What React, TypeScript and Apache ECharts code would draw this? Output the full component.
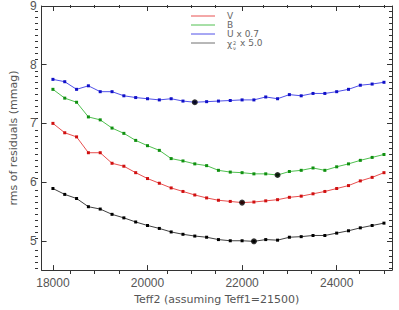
import React, { useEffect, useRef } from "react";
import * as echarts from "echarts";

const temps = [18000, 18250, 18500, 18750, 19000, 19250, 19500, 19750, 20000, 20250, 20500, 20750, 21000, 21250, 21500, 21750, 22000, 22250, 22500, 22750, 23000, 23250, 23500, 23750, 24000, 24250, 24500, 24750, 25000];

const rmsV = [7.00, 6.84, 6.77, 6.50, 6.50, 6.32, 6.27, 6.16, 6.06, 5.98, 5.90, 5.84, 5.78, 5.73, 5.69, 5.67, 5.65, 5.66, 5.68, 5.70, 5.74, 5.76, 5.80, 5.84, 5.89, 5.94, 6.02, 6.08, 6.16];
const rmsB = [7.58, 7.43, 7.36, 7.11, 7.06, 6.92, 6.83, 6.71, 6.62, 6.54, 6.40, 6.36, 6.31, 6.28, 6.20, 6.17, 6.16, 6.14, 6.14, 6.12, 6.18, 6.20, 6.24, 6.20, 6.26, 6.31, 6.37, 6.42, 6.47];
const rmsU = [7.75, 7.71, 7.58, 7.64, 7.54, 7.54, 7.47, 7.44, 7.42, 7.40, 7.42, 7.38, 7.36, 7.37, 7.38, 7.39, 7.40, 7.40, 7.45, 7.42, 7.49, 7.47, 7.51, 7.51, 7.54, 7.58, 7.65, 7.67, 7.70];
const chi2 = [5.89, 5.79, 5.72, 5.58, 5.54, 5.45, 5.39, 5.32, 5.26, 5.21, 5.15, 5.11, 5.08, 5.06, 5.02, 5.00, 5.00, 4.99, 5.02, 5.01, 5.06, 5.07, 5.09, 5.09, 5.13, 5.17, 5.22, 5.26, 5.30];

const xLabels = [18000, 20000, 22000, 24000];
const xMinor = [18500, 19000, 19500, 20500, 21000, 21500, 22500, 23000, 23500, 24500, 25000];
const yLabels = [5, 6, 7, 8, 9];

const FONT = "Liberation Sans, Arial, sans-serif";
const FONT2 = "DejaVu Sans, sans-serif";
const AX = "#333";
const TXT = "#555";

function minPoint(vals: number[]) {
  let k = 0;
  vals.forEach((v, i) => { if (v < vals[k]) k = i; });
  return [temps[k], vals[k]];
}

export default function App() {
  const ref = useRef<HTMLDivElement>(null);
  useEffect(() => {
    const chart = echarts.init(ref.current!, null, { renderer: "svg" });
    const yMinor: number[] = [];
    for (let i = 46; i <= 89; i++) if (i % 10 !== 0) yMinor.push(i / 10);

    const mkSeries = (name: string, vals: number[], line: string, mark: string) => ({
      name, type: "line", xAxisIndex: 0, yAxisIndex: 0,
      data: vals.map((v, i) => [temps[i], v]),
      symbol: "rect", symbolSize: 3, showSymbol: true,
      lineStyle: { color: line, width: 1 },
      itemStyle: { color: mark },
      z: 3,
    });
    const gridRect = { left: 35, right: 7, top: 5, bottom: 36 };
    const baseX = (grid: number, pos: string) => ({
      type: "value", gridIndex: grid, position: pos, min: 17760, max: 25170,
      splitLine: { show: false },
    });
    const baseY = (grid: number, pos: string) => ({
      type: "value", gridIndex: grid, position: pos, min: 4.5, max: 9,
      splitLine: { show: false },
    });

    const legendItems = [
      { t: "V", c: "#e85050" },
      { t: "B", c: "#50c050" },
      { t: "U x 0.7", c: "#5050e8" },
      { t: "", c: "#707070" },
    ];
    const graphics: any[] = [];
    legendItems.forEach((it, i) => {
      const y = 16 + i * 9;
      graphics.push({ type: "line", shape: { x1: 191, y1: y, x2: 215, y2: y }, style: { stroke: it.c, lineWidth: 1 } });
      if (it.t) graphics.push({ type: "text", x: 227, y: y, style: { text: it.t, fill: "#666", font: `9px ${FONT2}`, verticalAlign: "middle" } });
    });
    const cy = 16 + 27;
    graphics.push({ type: "text", x: 227, y: cy + 1, style: { text: "χ", fill: "#666", font: `9px ${FONT2}`, verticalAlign: "middle" } });
    graphics.push({ type: "text", x: 233, y: cy - 0.5, style: { text: "2", fill: "#666", font: `5px ${FONT2}`, verticalAlign: "middle" } });
    graphics.push({ type: "text", x: 233, y: cy + 4.5, style: { text: "ν", fill: "#666", font: `5px ${FONT2}`, verticalAlign: "middle" } });
    graphics.push({ type: "text", x: 240, y: cy, style: { text: "x 5.0", fill: "#666", font: `9px ${FONT2}`, verticalAlign: "middle" } });

    const plain = (v: number) => String(v);

    chart.setOption({
      animation: false,
      textStyle: { fontFamily: FONT },
      grid: [gridRect, gridRect],
      xAxis: [
        {
          ...baseX(0, "bottom"),
          name: "Teff2 (assuming Teff1=21500)", nameLocation: "middle", nameGap: 20,
          nameTextStyle: { color: TXT, fontSize: 11, fontFamily: FONT2 },
          axisLine: { lineStyle: { color: AX } },
          axisTick: { inside: true, length: 5, customValues: xLabels, lineStyle: { color: AX } },
          axisLabel: { customValues: xLabels, formatter: plain, color: TXT, fontSize: 12, margin: 7, fontFamily: FONT },
        },
        {
          ...baseX(0, "top"),
          axisLine: { lineStyle: { color: AX } },
          axisTick: { inside: true, length: 5, customValues: xLabels, lineStyle: { color: AX } },
          axisLabel: { show: false },
        },
        {
          ...baseX(1, "bottom"),
          axisLine: { show: false },
          axisTick: { inside: true, length: 3, customValues: xMinor, lineStyle: { color: AX } },
          axisLabel: { show: false },
        },
        {
          ...baseX(1, "top"),
          axisLine: { show: false },
          axisTick: { inside: true, length: 3, customValues: xMinor, lineStyle: { color: AX } },
          axisLabel: { show: false },
        },
      ],
      yAxis: [
        {
          ...baseY(0, "left"),
          name: "rms of residuals (mmag)", nameLocation: "middle", nameGap: 17, nameRotate: 90,
          nameTextStyle: { color: TXT, fontSize: 11, fontFamily: FONT2 },
          axisLine: { show: true, lineStyle: { color: AX } },
          axisTick: { show: true, inside: true, length: 5, customValues: yLabels, lineStyle: { color: AX } },
          axisLabel: { customValues: yLabels, formatter: plain, color: TXT, fontSize: 12, margin: 5, fontFamily: FONT },
        },
        {
          ...baseY(0, "right"),
          axisLine: { show: true, lineStyle: { color: AX } },
          axisTick: { show: true, inside: true, length: 5, customValues: yLabels, lineStyle: { color: AX } },
          axisLabel: { show: false },
        },
        {
          ...baseY(1, "left"),
          axisLine: { show: false },
          axisTick: { show: true, inside: true, length: 3, customValues: yMinor, lineStyle: { color: AX } },
          axisLabel: { show: false },
        },
        {
          ...baseY(1, "right"),
          axisLine: { show: false },
          axisTick: { show: true, inside: true, length: 3, customValues: yMinor, lineStyle: { color: AX } },
          axisLabel: { show: false },
        },
      ],
      series: [
        mkSeries("V", rmsV, "#e85050", "#d01010"),
        mkSeries("B", rmsB, "#50c050", "#109010"),
        mkSeries("U x 0.7", rmsU, "#5050e8", "#1010c8"),
        mkSeries("chi2 x 5.0", chi2, "#404040", "#000000"),
        {
          name: "minima", type: "scatter", xAxisIndex: 0, yAxisIndex: 0,
          data: [minPoint(rmsV), minPoint(rmsB), minPoint(rmsU), minPoint(chi2)],
          symbol: "circle", symbolSize: 6, itemStyle: { color: "#000" }, z: 5,
        },
      ],
      graphic: graphics,
    });
    return () => chart.dispose();
  }, []);
  return <div ref={ref} style={{ position: "absolute", left: 0, top: 0, width: 399, height: 310 }} />;
}
